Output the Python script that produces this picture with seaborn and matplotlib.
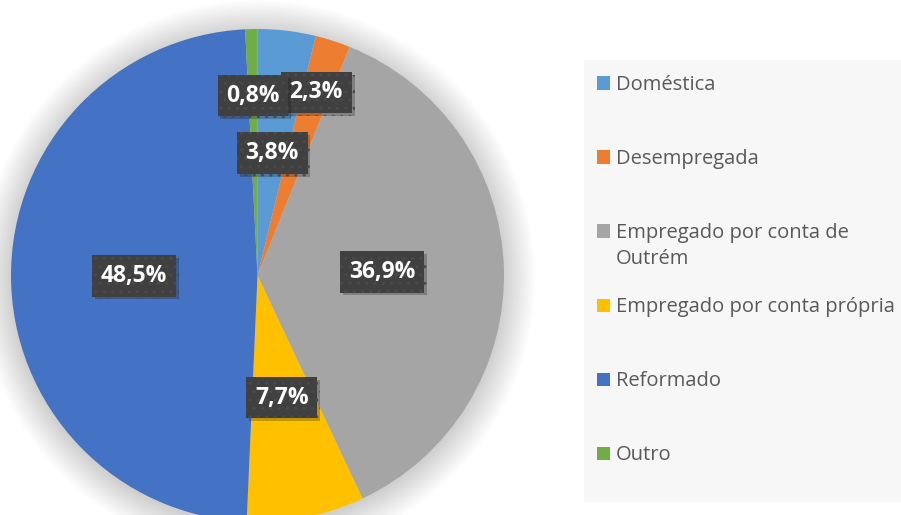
import seaborn as sns
import numpy as np
import matplotlib.pyplot as plt
from matplotlib.patches import Circle, Rectangle
import matplotlib.patheffects as pe

# data
categorias = ['Doméstica', 'Desempregada', 'Empregado por conta de\nOutrém',
              'Empregado por conta própria', 'Reformado', 'Outro']
percentagens = [3.8, 2.3, 36.9, 7.7, 48.5, 0.8]
cores = ['#5B9BD5', '#ED7D31', '#A5A5A5', '#FFC000', '#4472C4', '#70AD47']

# how far from the centre each label sits (fraction of radius)
dist_rotulo = [0.50, 0.78, 0.505, 0.505, 0.50, 0.73]

sns.set_theme(style='white')
plt.rcParams['font.family'] = ['Open Sans', 'DejaVu Sans']

fig = plt.figure(figsize=(9.01, 5.15), dpi=100)
W, H = 901, 515

# pie axes: centre (257.5, 275.5) px, radius 246.5 px
cx, cy, r = 257.5, 275.5, 246.5
ax = fig.add_axes([(cx - r) / W, (H - cy - r) / H, 2 * r / W, 2 * r / H])
ax.set_aspect('equal')
ax.axis('off')

# soft shadow around the pie
for k in range(24):
    ax.add_patch(Circle((0.0, -0.01), 1.0 + k * 0.0055, color='#909090',
                        alpha=0.015, lw=0, zorder=0, clip_on=False))

wedges, _ = ax.pie(percentagens, colors=cores, startangle=90, counterclock=False,
                   radius=1.0, wedgeprops=dict(linewidth=0), frame=False)
ax.set_xlim(-1, 1)
ax.set_ylim(-1, 1)

for w, p, d in zip(wedges, percentagens, dist_rotulo):
    ang = np.deg2rad((w.theta1 + w.theta2) / 2)
    txt = ax.text(d * np.cos(ang), d * np.sin(ang), f'{p:.1f}%'.replace('.', ','),
                  ha='center', va='center', color='white', fontsize=16.5,
                  fontweight='bold', zorder=5,
                  bbox=dict(boxstyle='square,pad=0.38', facecolor='#404040',
                            edgecolor='#4a4a4a', hatch='..', linewidth=0))
    txt.get_bbox_patch().set_path_effects(
        [pe.SimplePatchShadow(offset=(2, -2), alpha=0.25), pe.Normal()])

# legend panel drawn in pixel layout
fig.patches.append(Rectangle((584 / W, (H - 502) / H), (W - 584) / W, (502 - 60) / H,
                             transform=fig.transFigure, facecolor='#F7F7F7',
                             edgecolor='none', zorder=0))
for i, (nome, cor) in enumerate(zip(categorias, cores)):
    yc = 83 + 74 * i
    fig.patches.append(Rectangle((597 / W, (H - yc - 6.5) / H), 13 / W, 13 / H,
                                 transform=fig.transFigure, facecolor=cor,
                                 edgecolor='none', zorder=2))
    fig.text(616 / W, (H - yc + 8) / H, nome, ha='left', va='top', fontsize=14.5,
             color='#595959', linespacing=1.4)

fig.savefig('out.png', dpi=100)
